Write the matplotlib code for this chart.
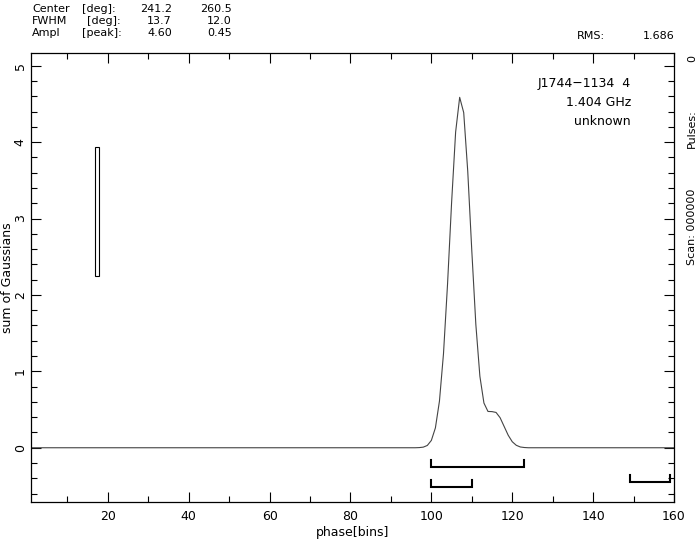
import matplotlib
matplotlib.use("Agg")
import matplotlib.pyplot as plt
from matplotlib.patches import Rectangle
from matplotlib.ticker import MultipleLocator

W, H = 697, 541

# profile values (sum of Gaussians), zero elsewhere
phase_bins = list(range(1, 161))
peak_bins = list(range(96, 125))
peak_vals = [0.0, 0.002, 0.008, 0.030, 0.096, 0.260, 0.610, 1.231, 2.140, 3.204,
             4.131, 4.586, 4.386, 3.616, 2.578, 1.613, 0.935, 0.585, 0.475, 0.473,
             0.462, 0.393, 0.279, 0.164, 0.079, 0.032, 0.010, 0.003, 0.0]

# header values
centers = [241.2, 260.5]
fwhms = [13.7, 12.0]
ampls = [4.60, 0.45]
rms = 1.686
rms_bin = 17.4
rms_mid = 3.09

# on-pulse / off-pulse brackets: (start, end, level)
brackets = [(100, 123, -0.25), (100, 110, -0.51), (149, 159, -0.45)]

source = "J1744\u22121134  4"
freq = "1.404 GHz"
obs = "unknown"
scan = "000000"
pulses = "0"

profile = []
for b in phase_bins:
    if b in peak_bins:
        profile.append(peak_vals[peak_bins.index(b)])
    else:
        profile.append(0.0)

fig = plt.figure(figsize=(W / 100, H / 100), dpi=100)
ax = fig.add_axes([31 / W, 1 - 502 / H, (674 - 31) / W, (502 - 52.7) / H])

ax.plot(phase_bins, profile, color="#444444", lw=0.8)

ax.add_patch(Rectangle((rms_bin - 0.5, rms_mid - rms / 2), 1.0, rms,
                       fill=False, ec="black", lw=0.8))

for x0, x1, lev in brackets:
    ax.plot([x0, x0, x1, x1], [lev + 0.09, lev, lev, lev + 0.09],
            color="black", lw=1.5, solid_joinstyle="miter")

ax.set_xlim(1, 160)
ax.set_ylim(-0.71, 5.17)
ax.xaxis.set_major_locator(MultipleLocator(20))
ax.xaxis.set_minor_locator(MultipleLocator(10))
ax.yaxis.set_major_locator(MultipleLocator(1))
ax.yaxis.set_minor_locator(MultipleLocator(0.2))
ax.tick_params(which="both", direction="in", top=True, right=True,
               labelsize=9, width=0.8, color="black")
ax.tick_params(which="major", length=7)
ax.tick_params(which="minor", length=4)
ax.tick_params(axis="x", pad=6)
ax.tick_params(axis="y", pad=3)
for lab in ax.get_yticklabels():
    lab.set_rotation(90)
    lab.set_va("center")
for s in ax.spines.values():
    s.set_linewidth(0.9)

ax.set_xlabel("phase[bins]", fontsize=9, labelpad=2)


def px(x, y):
    return x / W, 1 - y / H


fig.text(*px(8, 278), "sum of Gaussians", fontsize=9, rotation=90,
         ha="center", va="center")

fs = 8
rows = [("Center", "[deg]:", centers, "{:.1f}", 12, 82),
        ("FWHM", "[deg]:", fwhms, "{:.1f}", 24, 87),
        ("Ampl", "[peak]:", ampls, "{:.2f}", 36, 82)]
for name, unit, vals, fmt, yb, ux in rows:
    fig.text(*px(32, yb), name, fontsize=fs, va="baseline")
    fig.text(*px(ux, yb), unit, fontsize=fs, va="baseline")
    fig.text(*px(172, yb), fmt.format(vals[0]), fontsize=fs, va="baseline", ha="right")
    fig.text(*px(232, yb), fmt.format(vals[1]), fontsize=fs, va="baseline", ha="right")

fig.text(*px(577, 39), "RMS:", fontsize=fs, va="baseline")
fig.text(*px(675, 39), "{:.3f}".format(rms), fontsize=fs, va="baseline", ha="right")

fs2 = 9
fig.text(*px(631, 87), source, fontsize=fs2, va="baseline", ha="right")
fig.text(*px(631, 106), freq, fontsize=fs2, va="baseline", ha="right")
fig.text(*px(631, 125), obs, fontsize=fs2, va="baseline", ha="right")

fig.text(*px(692, 265), "Scan: " + scan, fontsize=fs, rotation=90,
         ha="center", va="bottom")
fig.text(*px(692, 148), "Pulses:", fontsize=fs, rotation=90, ha="center", va="bottom")
fig.text(*px(692, 62), pulses, fontsize=fs, rotation=90, ha="center", va="bottom")

fig.savefig("out.png", dpi=100)
